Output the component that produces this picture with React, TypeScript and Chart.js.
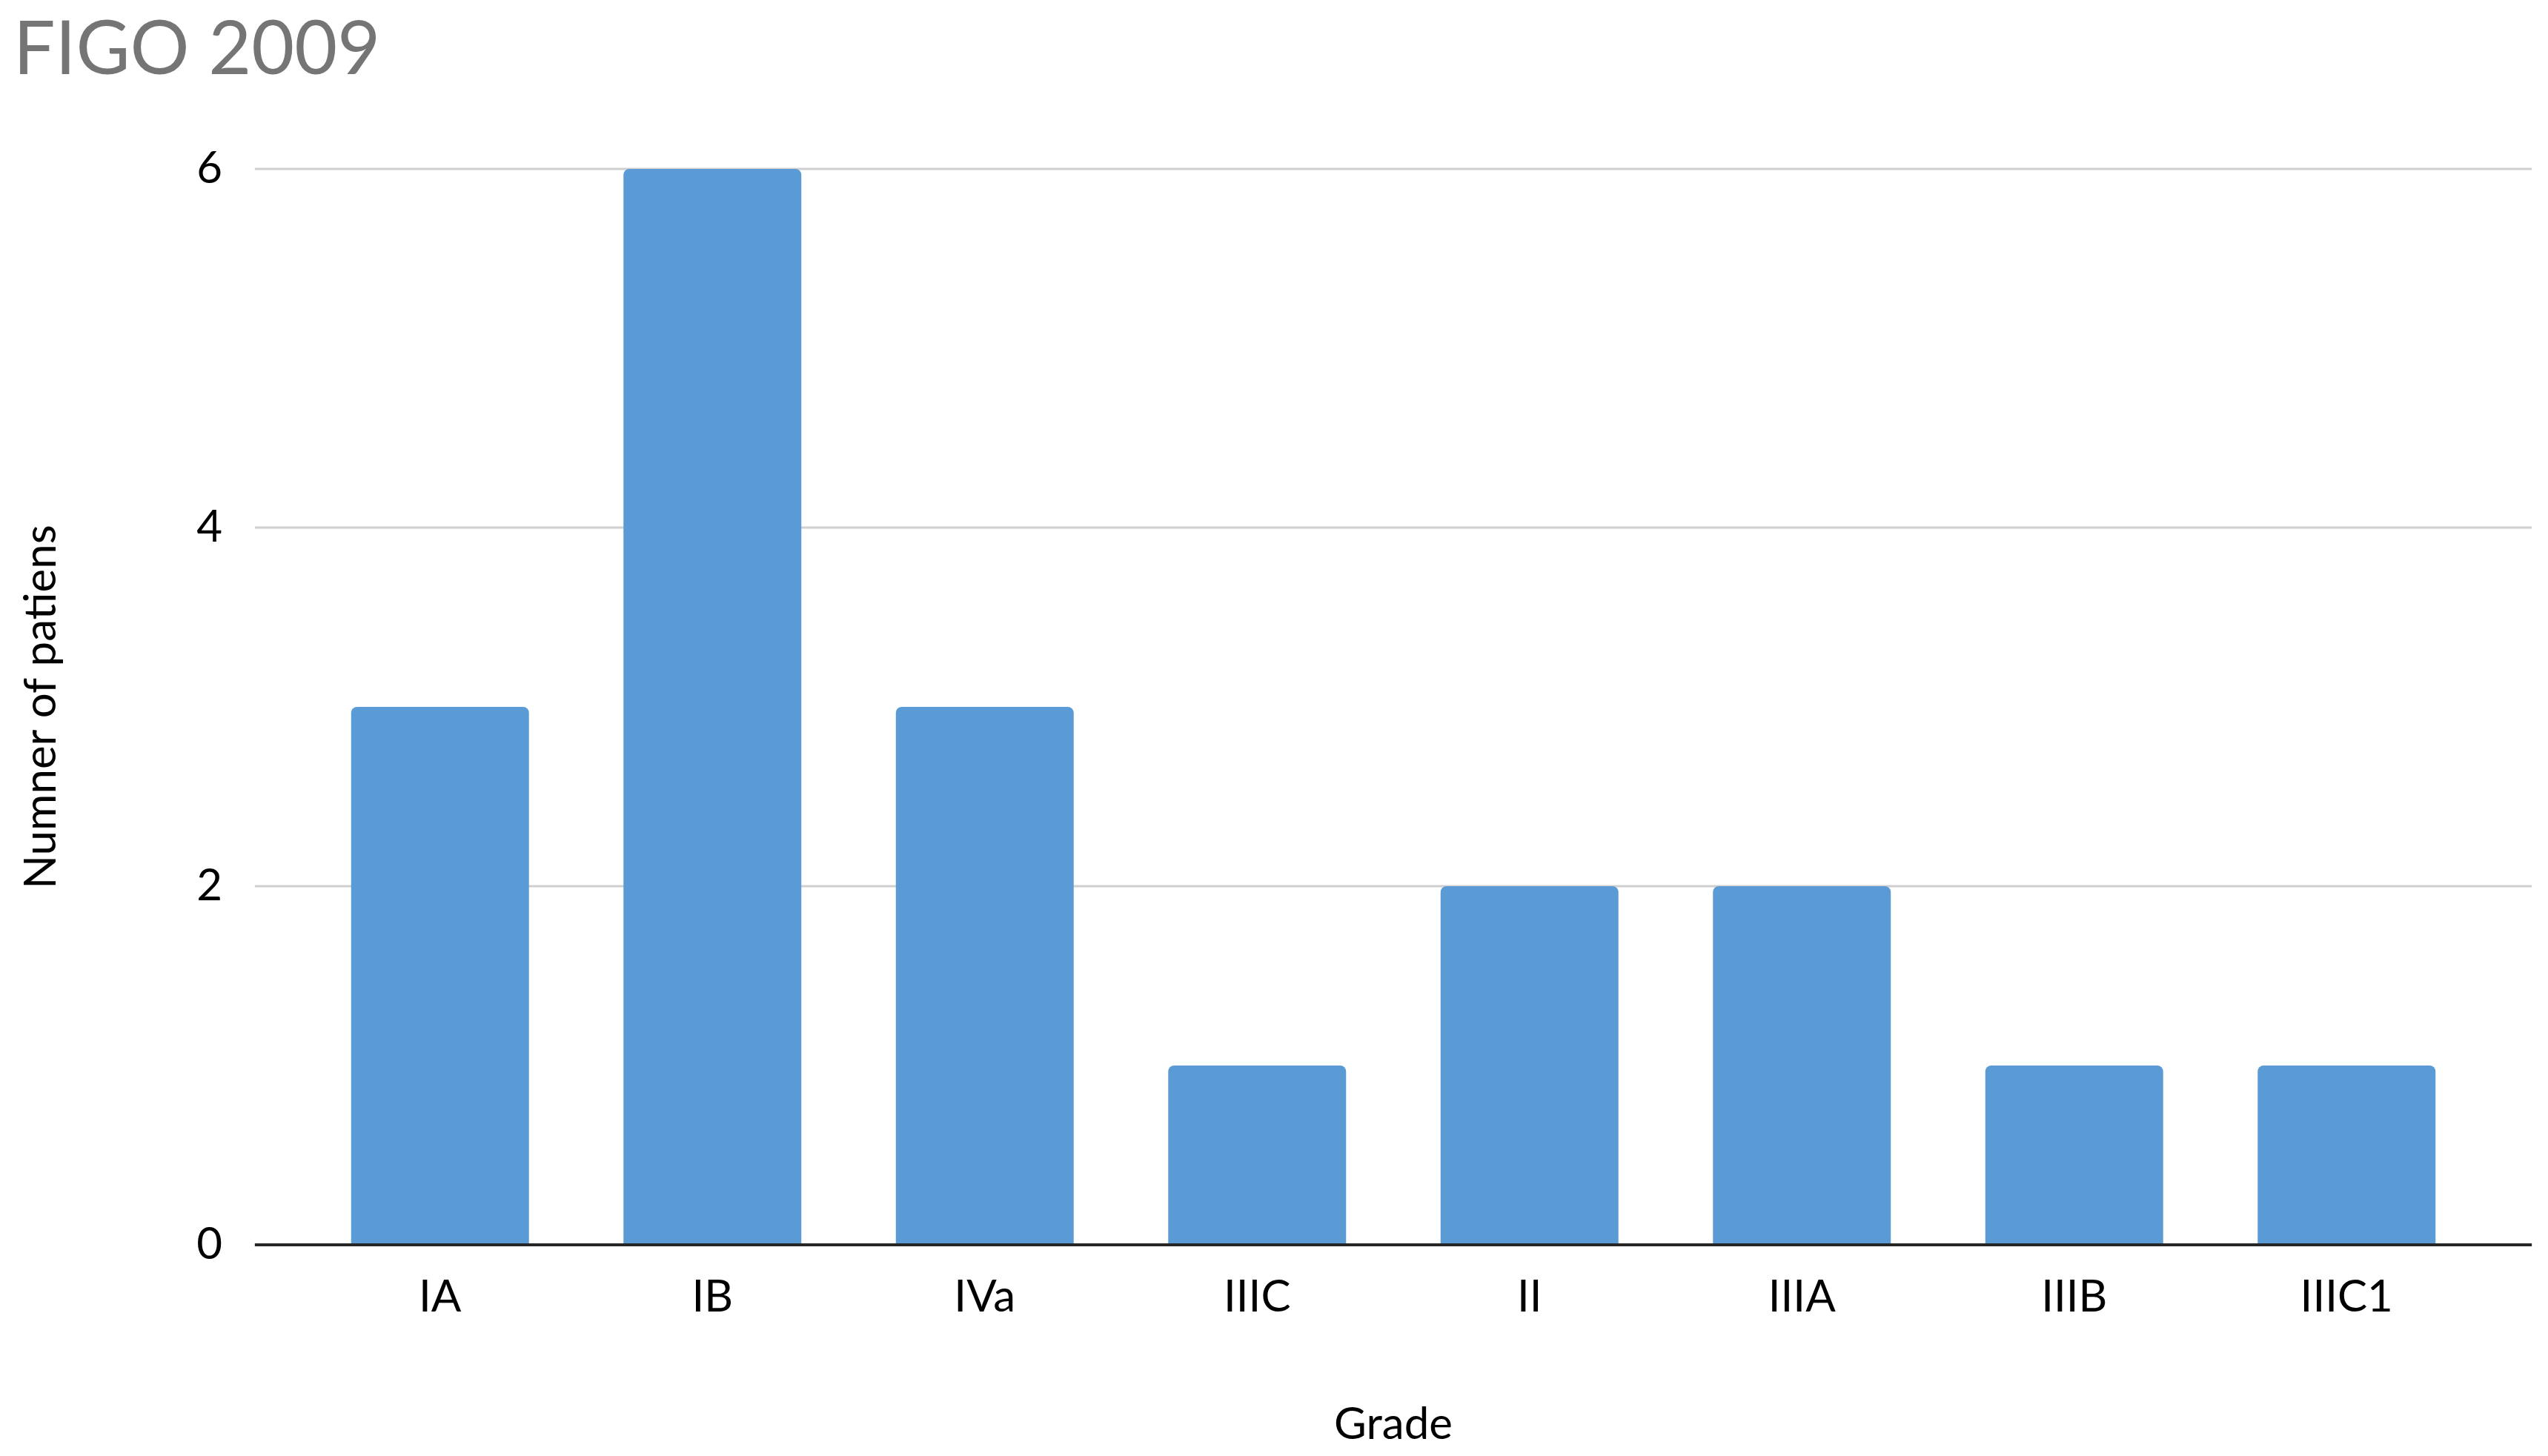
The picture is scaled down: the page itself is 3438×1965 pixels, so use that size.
import React, { useEffect, useRef } from "react";
import { Chart, registerables } from "chart.js";

Chart.register(...registerables);

const categories = ["IA", "IB", "IVa", "IIIC", "II", "IIIA", "IIIB", "IIIC1"];
const patients = [3, 6, 3, 1, 2, 2, 1, 1];
const yTickMax = 6;
const yTickStep = 2;
const chartTitle = "FIGO 2009";
const xAxisTitle = "Grade";
const yAxisTitle = "Numner of patiens";

const FONT = "Lato, 'Noto Sans', sans-serif";
const GRID_EXTEND = 0.18;

const gridPlugin = {
  id: "extGrid",
  beforeDatasetsDraw(chart: any) {
    const { ctx, chartArea, scales } = chart;
    const x = scales.x;
    const y = scales.y;
    const slot = x.getPixelForValue(1) - x.getPixelForValue(0);
    const ext = slot * GRID_EXTEND;
    ctx.save();
    ctx.strokeStyle = "#cfcfcf";
    ctx.lineWidth = 3;
    y.ticks.forEach((t: any) => {
      if (t.value === 0) return;
      const py = y.getPixelForValue(t.value);
      ctx.beginPath();
      ctx.moveTo(chartArea.left - ext, py);
      ctx.lineTo(chartArea.right + ext, py);
      ctx.stroke();
    });
    ctx.restore();
  },
  afterDatasetsDraw(chart: any) {
    const { ctx, chartArea, scales } = chart;
    const x = scales.x;
    const y = scales.y;
    const slot = x.getPixelForValue(1) - x.getPixelForValue(0);
    const ext = slot * GRID_EXTEND;
    const py = y.getPixelForValue(0);
    ctx.save();
    ctx.strokeStyle = "#262626";
    ctx.lineWidth = 4;
    ctx.beginPath();
    ctx.moveTo(chartArea.left - ext, py);
    ctx.lineTo(chartArea.right + ext, py);
    ctx.stroke();
    ctx.restore();
  },
};

export default function App() {
  const ref = useRef<HTMLCanvasElement>(null);
  useEffect(() => {
    if (!ref.current) return;
    const chart = new Chart(ref.current, {
      type: "bar",
      data: {
        labels: categories,
        datasets: [
          {
            data: patients,
            backgroundColor: "#5B9BD5",
            borderRadius: { topLeft: 8, topRight: 8, bottomLeft: 0, bottomRight: 0 },
            borderSkipped: "start",
            categoryPercentage: 1,
            barPercentage: 0.653,
          },
        ],
      },
      options: {
        animation: false,
        responsive: true,
        maintainAspectRatio: false,
        layout: { padding: { left: 18, right: 88, top: 0, bottom: 0 } },
        plugins: {
          legend: { display: false },
          tooltip: { enabled: false },
          title: {
            display: true,
            text: chartTitle,
            align: "start",
            color: "#757575",
            font: { family: FONT, size: 100, weight: "normal" },
            padding: { top: 8, bottom: 100 },
          },
        },
        scales: {
          x: {
            grid: { display: false },
            border: { display: false },
            ticks: {
              color: "#000",
              font: { family: FONT, size: 60 },
              padding: 27,
              maxRotation: 0,
            },
            title: {
              display: true,
              text: xAxisTitle,
              color: "#000",
              font: { family: FONT, size: 60 },
              padding: { top: 73, bottom: 6 },
            },
          },
          y: {
            min: 0,
            max: yTickMax,
            grid: { display: false },
            border: { display: false },
            ticks: {
              stepSize: yTickStep,
              color: "#000",
              font: { family: FONT, size: 60 },
              padding: 102,
            },
            title: {
              display: true,
              text: yAxisTitle,
              color: "#000",
              font: { family: FONT, size: 60 },
              padding: { top: 2, bottom: 0 },
            },
            afterFit: (s: any) => {
              s.width = 392;
            },
          },
        },
      },
      plugins: [gridPlugin],
    });
    return () => chart.destroy();
  }, []);
  return (
    <div style={{ position: "fixed", left: 0, top: 0, width: 3438, height: 1965, background: "#fff" }}>
      <canvas ref={ref} />
    </div>
  );
}
